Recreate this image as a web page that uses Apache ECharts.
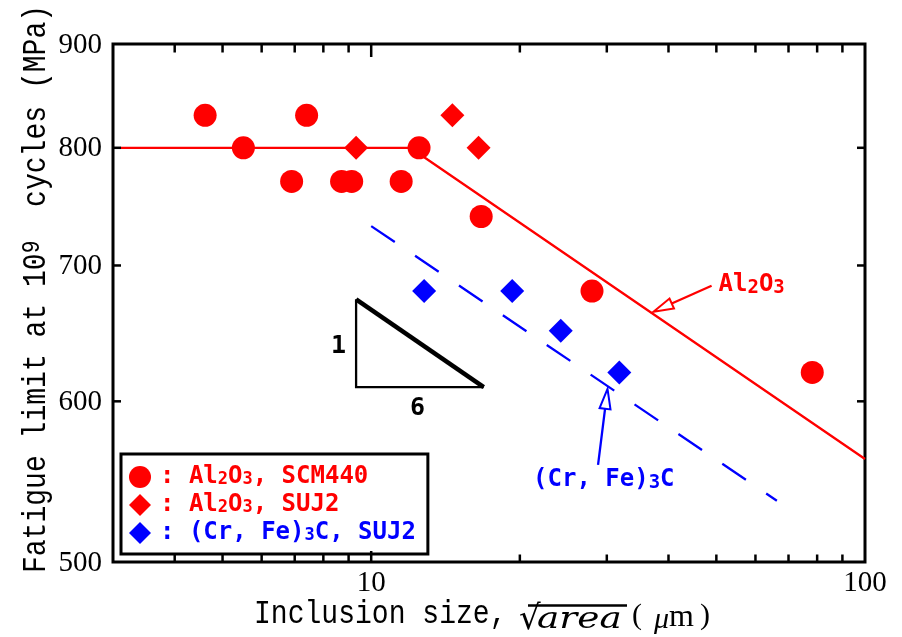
<!DOCTYPE html>
<html><head><meta charset="utf-8">
<script src="https://cdn.jsdelivr.net/npm/echarts@6/dist/echarts.min.js"></script>
<style>html,body{margin:0;padding:0;background:#fff}#c{width:902px;height:637px}</style>
</head><body><div id="c"></div>
<script>
// ---- axis ranges & ticks ----
const X_MIN = 3, X_MAX = 100, Y_MIN = 500, Y_MAX = 900;
const xMinorTicks = [4, 5, 6, 7, 8, 9, 20, 30, 40, 50, 60, 70, 80, 90];
const xMajorTicks = [10];
const yTicks = [600, 700, 800];
const xTickLabels = [10, 100];
const yTickLabels = [500, 600, 700, 800, 900];

// ---- series data: [sqrt(area) um, fatigue limit MPa] ----
const seriesNames = ['Al2O3, SCM440', 'Al2O3, SUJ2', '(Cr, Fe)3C, SUJ2'];
const al2o3SCM440 = [[4.61, 830], [5.51, 800], [6.90, 770], [7.40, 830], [8.71, 770], [9.13, 770],
                     [11.5, 770], [12.5, 800], [16.7, 740], [28.0, 680], [78.2, 620]];
const al2o3SUJ2 = [[9.32, 800], [14.6, 830], [16.5, 800]];
const carbideSUJ2 = [[12.8, 680], [19.3, 680], [24.2, 650], [31.8, 620]];
const al2o3Fit = [[3.11, 800], [12.0, 800], [100, 562]];
const carbideFit = [[10.0, 732], [66.3, 536]];
const slopeTriangle = [[9.32, 673.6], [9.32, 609.7], [16.9, 609.7]];
const slopeHypotenuse = [[9.32, 673.6], [16.9, 609.7]];
const slopeTexts = ['1', '6'];
// annotation arrows: [tailX, tailY, tipX, tipY]
const al2o3Arrow = [48.9, 684.1, 37.3, 664.2];
const carbideArrow = [28.8, 558.2, 30.1, 608.5];

// ---- styles ----
const RED = '#ff0000', BLUE = '#0000ff', BLACK = '#000000';
const SERIF = '"Liberation Serif", "Times New Roman", serif';
const MONO = '"Liberation Mono", "DejaVu Sans Mono", monospace';
const GOTH = '"DejaVu Sans Mono", monospace';

const chart = echarts.init(document.getElementById('c'), null, {renderer: 'canvas'});

function xTickItem(params, api) {
  const v = api.value(0);
  const major = xMajorTicks.indexOf(v) >= 0;
  const b = api.coord([v, Y_MIN]);
  const t = api.coord([v, Y_MAX]);
  const lb = major ? 11 : 7.5, lt = major ? 13 : 8.5;
  return {type: 'group', children: [
    {type: 'line', shape: {x1: b[0], y1: b[1], x2: b[0], y2: b[1] - lb}, style: {stroke: BLACK, lineWidth: 2.5}},
    {type: 'line', shape: {x1: t[0], y1: t[1], x2: t[0], y2: t[1] + lt}, style: {stroke: BLACK, lineWidth: 2.5}}
  ]};
}
function yTickItem(params, api) {
  const v = api.value(1);
  const l = api.coord([X_MIN, v]);
  const r = api.coord([X_MAX, v]);
  return {type: 'group', children: [
    {type: 'line', shape: {x1: l[0], y1: l[1], x2: l[0] + 8, y2: l[1]}, style: {stroke: BLACK, lineWidth: 2.5}},
    {type: 'line', shape: {x1: r[0], y1: r[1], x2: r[0] - 8, y2: r[1]}, style: {stroke: BLACK, lineWidth: 2.5}}
  ]};
}
function xLabelItem(params, api) {
  const v = api.value(0);
  const p = api.coord([v, Y_MIN]);
  return {type: 'text', x: p[0], y: p[1] + 21,
    style: {text: String(v), font: '29px ' + SERIF, fill: BLACK, align: 'center', verticalAlign: 'middle'}};
}
function yLabelItem(params, api) {
  const v = api.value(1);
  const p = api.coord([X_MIN, v]);
  return {type: 'text', x: p[0] - 11, y: p[1] + 1,
    style: {text: String(v), font: '29px ' + SERIF, fill: BLACK, align: 'right', verticalAlign: 'middle'}};
}
const annotColors = [RED, BLUE];
const annotTexts = ['{m|Al}{s|2}{m|O}{s|3}', '{m|(Cr, Fe)}{s|3}{m|C}'];
const annotOffsets = [[7, -1, 'left'], [-65, 15, 'left']];
function arrowItem(params, api) {
  const idx = params.dataIndex;
  const tail = api.coord([api.value(0), api.value(1)]);
  const tip = api.coord([api.value(2), api.value(3)]);
  const color = annotColors[idx];
  const dx = tail[0] - tip[0], dy = tail[1] - tip[1];
  const len = Math.hypot(dx, dy), ux = dx / len, uy = dy / len;
  const L = 20, W = 5.5;
  const bx = tip[0] + ux * L, by = tip[1] + uy * L;
  const off = annotOffsets[idx];
  return {type: 'group', children: [
    {type: 'line', shape: {x1: tail[0], y1: tail[1], x2: bx, y2: by}, style: {stroke: color, lineWidth: 2.3}},
    {type: 'polygon', shape: {points: [[tip[0], tip[1]], [bx - uy * W, by + ux * W], [bx + uy * W, by - ux * W]]},
      style: {fill: '#fff', stroke: color, lineWidth: 2}},
    {type: 'text', x: tail[0] + off[0], y: tail[1] + off[1],
      style: {text: annotTexts[idx], align: off[2], verticalAlign: 'middle', fill: color,
        font: 'bold 24px ' + GOTH, lineHeight: 26,
        rich: {
          m: {font: 'bold 24px ' + GOTH, fill: color, lineHeight: 26},
          s: {font: 'bold 19px ' + GOTH, fill: color, lineHeight: 10, verticalAlign: 'bottom'}
        }}}
  ]};
}
function slopeLabelItem(params, api) {
  // anchored on the triangle vertices
  const top = api.coord(slopeTriangle[0]);
  const bl = api.coord(slopeTriangle[1]);
  const br = api.coord(slopeTriangle[2]);
  const f = 'bold 25px ' + GOTH;
  return {type: 'group', children: [
    {type: 'text', x: top[0] - 17.5, y: (top[1] + bl[1]) / 2 + 3,
      style: {text: slopeTexts[0], font: f, fill: BLACK, align: 'center', verticalAlign: 'middle'}},
    {type: 'text', x: (bl[0] + br[0]) / 2 - 2.5, y: bl[1] + 21,
      style: {text: slopeTexts[1], font: f, fill: BLACK, align: 'center', verticalAlign: 'middle'}}
  ]};
}

const legendTexts = [
  '{r0|:}{r| Al}{rs|2}{r|O}{rs|3}{r|, SCM440}',
  '{r0|:}{r| Al}{rs|2}{r|O}{rs|3}{r|, SUJ2}',
  '{b0|:}{b| (Cr, Fe)}{bs|3}{b|C, SUJ2}'
];
const legMain = {fontFamily: 'DejaVu Sans Mono', fontWeight: 'bold', fontSize: 24, lineHeight: 22};
const legSub = {fontFamily: 'DejaVu Sans Mono', fontWeight: 'bold', fontSize: 17, lineHeight: 2, verticalAlign: 'bottom'};

const TA = {align: 'left', verticalAlign: 'middle', textAlign: 'left', textVerticalAlign: 'middle', fill: BLACK};

const option = {
  animation: false,
  backgroundColor: '#fff',
  grid: {left: 113, top: 44, width: 752, height: 518, show: true, borderColor: BLACK, borderWidth: 3,
    backgroundColor: 'transparent', containLabel: false},
  xAxis: {type: 'log', logBase: 10, min: X_MIN, max: X_MAX,
    axisLine: {show: false}, axisTick: {show: false}, axisLabel: {show: false}, splitLine: {show: false}},
  yAxis: {type: 'log', logBase: 10, min: Y_MIN, max: Y_MAX,
    axisLine: {show: false}, axisTick: {show: false}, axisLabel: {show: false}, splitLine: {show: false}},
  legend: {
    orient: 'vertical', left: 121, top: 454,
    itemWidth: 22, itemHeight: 22, itemGap: 4,
    padding: [11, 12, 9, 8],
    borderColor: BLACK, borderWidth: 3, backgroundColor: '#fff',
    selectedMode: false,
    data: [{name: seriesNames[0], icon: 'circle'}, {name: seriesNames[1], icon: 'diamond'}, {name: seriesNames[2], icon: 'diamond'}],
    formatter: function (name) { return legendTexts[seriesNames.indexOf(name)]; },
    textStyle: {
      fontFamily: 'DejaVu Sans Mono', fontWeight: 'bold', fontSize: 24, lineHeight: 22,
      rich: {
        r0: Object.assign({}, legMain, {color: RED, padding: [0, 0, 0, 4]}),
        r: Object.assign({}, legMain, {color: RED}),
        rs: Object.assign({}, legSub, {color: RED}),
        b0: Object.assign({}, legMain, {color: BLUE, padding: [0, 0, 0, 4]}),
        b: Object.assign({}, legMain, {color: BLUE}),
        bs: Object.assign({}, legSub, {color: BLUE})
      }
    }
  },
  series: [
    {type: 'line', name: 'Al2O3 fit', data: al2o3Fit, symbol: 'none', z: 2, silent: true,
      lineStyle: {color: RED, width: 2.3}},
    {type: 'line', name: 'carbide fit', data: carbideFit, symbol: 'none', z: 2, silent: true,
      lineStyle: {color: BLUE, width: 2.3, type: [28.5, 24.5]}},
    {type: 'line', name: 'slope', data: slopeTriangle, symbol: 'none', z: 2, silent: true,
      lineStyle: {color: BLACK, width: 2.3, join: 'miter'}},
    {type: 'line', name: 'slope2', data: slopeHypotenuse, symbol: 'none', z: 2, silent: true,
      lineStyle: {color: BLACK, width: 4.5}},
    {type: 'scatter', name: seriesNames[0], data: al2o3SCM440, symbol: 'circle', symbolSize: 23, z: 4,
      itemStyle: {color: RED, opacity: 1}},
    {type: 'scatter', name: seriesNames[1], data: al2o3SUJ2, symbol: 'diamond', symbolSize: 24, z: 4,
      itemStyle: {color: RED, opacity: 1}},
    {type: 'scatter', name: seriesNames[2], data: carbideSUJ2, symbol: 'diamond', symbolSize: 24, z: 4,
      itemStyle: {color: BLUE, opacity: 1}},
    {type: 'custom', name: 'xticks', silent: true, z: 5, renderItem: xTickItem,
      data: xMinorTicks.concat(xMajorTicks).map(v => [v, Y_MIN])},
    {type: 'custom', name: 'yticks', silent: true, z: 5, renderItem: yTickItem,
      data: yTicks.map(v => [X_MIN, v])},
    {type: 'custom', name: 'xlabels', silent: true, z: 5, renderItem: xLabelItem,
      data: xTickLabels.map(v => [v, Y_MIN])},
    {type: 'custom', name: 'ylabels', silent: true, z: 5, renderItem: yLabelItem,
      data: yTickLabels.map(v => [X_MIN, v])},
    {type: 'custom', name: 'arrows', silent: true, z: 6, renderItem: arrowItem,
      encode: {x: [0, 2], y: [1, 3]},
      data: [al2o3Arrow, carbideArrow]},
    {type: 'custom', name: 'slopeLabels', silent: true, z: 6, renderItem: slopeLabelItem,
      data: [slopeTriangle[0]]}
  ],
  graphic: [
    {type: 'text', x: 254, y: 614, scaleX: 0.85, style: Object.assign({text: 'Inclusion size,', font: '33px ' + MONO}, TA)},
    {type: 'text', x: 519, y: 620, style: Object.assign({text: '√', font: '34px "DejaVu Sans"'}, TA)},
    {type: 'line', shape: {x1: 528, y1: 605.5, x2: 627, y2: 605.5}, style: {stroke: BLACK, lineWidth: 2.5}},
    {type: 'text', x: 537, y: 620, scaleX: 1.25, style: Object.assign({text: 'area', font: 'italic 30px "DejaVu Serif"'}, TA)},
    {type: 'text', x: 632, y: 616, style: Object.assign({text: '(', font: '30px ' + SERIF}, TA)},
    {type: 'text', x: 654, y: 620, style: Object.assign({text: 'μ', font: 'italic 30px ' + SERIF}, TA)},
    {type: 'text', x: 669, y: 618, style: Object.assign({text: 'm', font: '32px ' + SERIF}, TA)},
    {type: 'text', x: 700, y: 616, style: Object.assign({text: ')', font: '30px ' + SERIF}, TA)},
    {type: 'text', x: 36, y: 289, rotation: Math.PI / 2, scaleX: 0.85, style: {
      text: 'Fatigue limit at 10{s|9}  cycles (MPa)', font: '33px ' + MONO, fill: BLACK, lineHeight: 33,
      align: 'center', verticalAlign: 'middle', textAlign: 'center', textVerticalAlign: 'middle',
      rich: {s: {font: '25px ' + MONO, fill: BLACK, lineHeight: 7, verticalAlign: 'top'}}}}
  ]
};
chart.setOption(option);
</script>
</body></html>
